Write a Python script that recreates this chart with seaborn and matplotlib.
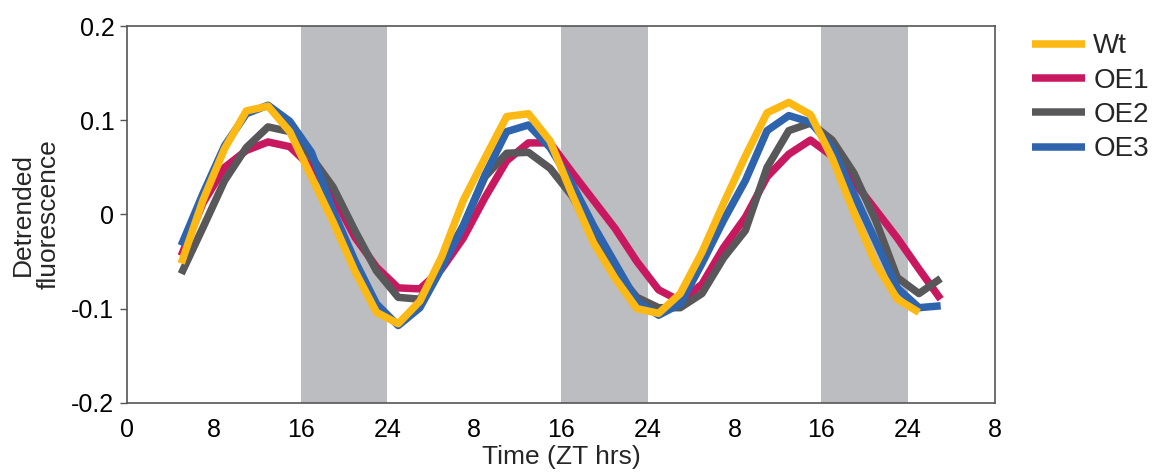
import numpy as np
import pandas as pd
import matplotlib.pyplot as plt
import seaborn as sns

# Sampling times (continuous hours, every 2 h)
hours = list(range(5, 76, 2))

# Detrended fluorescence
wt = [-0.052, 0.015, 0.070, 0.110, 0.115, 0.088, 0.040, -0.008, -0.060, -0.104,
      -0.116, -0.092, -0.045, 0.015, 0.060, 0.104, 0.107, 0.078, 0.022, -0.030,
      -0.068, -0.100, -0.105, -0.084, -0.040, 0.012, 0.062, 0.108, 0.119, 0.106,
      0.060, 0.002, -0.052, -0.090, -0.104]
oe1 = [-0.044, 0.012, 0.050, 0.068, 0.077, 0.072, 0.050, 0.020, -0.024, -0.056,
       -0.078, -0.079, -0.058, -0.025, 0.018, 0.057, 0.076, 0.076, 0.045, 0.015,
       -0.015, -0.050, -0.080, -0.092, -0.074, -0.035, -0.003, 0.040, 0.064, 0.079,
       0.062, 0.035, 0.005, -0.025, -0.058, -0.090]
oe2 = [-0.063, -0.014, 0.036, 0.071, 0.093, 0.088, 0.061, 0.029, -0.017, -0.060,
       -0.088, -0.090, -0.052, -0.012, 0.040, 0.065, 0.066, 0.049, 0.020, -0.020,
       -0.060, -0.088, -0.099, -0.099, -0.084, -0.046, -0.017, 0.050, 0.089, 0.097,
       0.079, 0.044, -0.006, -0.067, -0.084, -0.068]
oe3 = [-0.033, 0.022, 0.073, 0.107, 0.116, 0.099, 0.066, 0.004, -0.049, -0.095,
       -0.118, -0.099, -0.057, -0.012, 0.042, 0.088, 0.095, 0.071, 0.033, -0.012,
       -0.052, -0.092, -0.107, -0.095, -0.052, -0.006, 0.036, 0.089, 0.105, 0.098,
       0.071, 0.022, -0.028, -0.078, -0.099, -0.097]

x_ticks = [0, 8, 16, 24, 32, 40, 48, 56, 64, 72, 80]
x_tick_labels = ["0", "8", "16", "24", "8", "16", "24", "8", "16", "24", "8"]
y_ticks = [-0.2, -0.1, 0, 0.1, 0.2]
y_tick_labels = ["-0.2", "-0.1", "0", "0.1", "0.2"]
dark_bands = [(16, 24), (40, 48), (64, 72)]

colors = {"Wt": "#fdb913", "OE1": "#c8185f", "OE2": "#58585a", "OE3": "#2e63ae"}

series = {"OE1": oe1, "OE2": oe2, "OE3": oe3, "Wt": wt}
frames = []
for name, vals in series.items():
    frames.append(pd.DataFrame({"time": hours[:len(vals)], "value": vals, "line": name}))
df = pd.concat(frames, ignore_index=True)

sns.set_style("white")
plt.rcParams["font.family"] = ["Liberation Sans", "DejaVu Sans"]

fig = plt.figure(figsize=(11.65, 4.75), dpi=100)
ax = fig.add_axes([0.109, 0.152, 0.745, 0.793])

for start, end in dark_bands:
    ax.axvspan(start, end, color="#bcbdc0", lw=0, zorder=0)

# draw order: Wt last so it sits on top
for name in ["OE1", "OE2", "OE3", "Wt"]:
    sns.lineplot(data=df[df["line"] == name], x="time", y="value", color=colors[name],
                 lw=5.4, sort=False, estimator=None, label=name, ax=ax, zorder=3,
                 solid_joinstyle="round", solid_capstyle="butt")

ax.set_xlim(0, 80)
ax.set_ylim(-0.2, 0.2)
ax.set_xticks(x_ticks)
ax.set_xticklabels(x_tick_labels)
ax.set_yticks(y_ticks)
ax.set_yticklabels(y_tick_labels)
ax.tick_params(axis="both", labelsize=18, colors="black")
ax.tick_params(axis="y", direction="out", length=5, width=1, color="#555555", pad=4, left=True)
ax.tick_params(axis="x", length=0, pad=11)
for sp in ax.spines.values():
    sp.set_color("#555555")
    sp.set_linewidth(1.2)

ax.set_xlabel("Time (ZT hrs)", fontsize=19, labelpad=2)
ax.set_ylabel("Detrended\nfluorescence", fontsize=19, labelpad=8, linespacing=1.05)

handles, labels = ax.get_legend_handles_labels()
order = [labels.index(n) for n in ["Wt", "OE1", "OE2", "OE3"]]
leg = ax.legend([handles[i] for i in order], [labels[i] for i in order],
                loc="upper left", bbox_to_anchor=(0.886, 0.93), bbox_transform=fig.transFigure,
                frameon=False, fontsize=20, handlelength=1.9, handletextpad=0.3,
                labelspacing=0.3, borderpad=0, borderaxespad=0)
for h in leg.get_lines():
    h.set_linewidth(5.4)

fig.savefig("out.png", dpi=100)
